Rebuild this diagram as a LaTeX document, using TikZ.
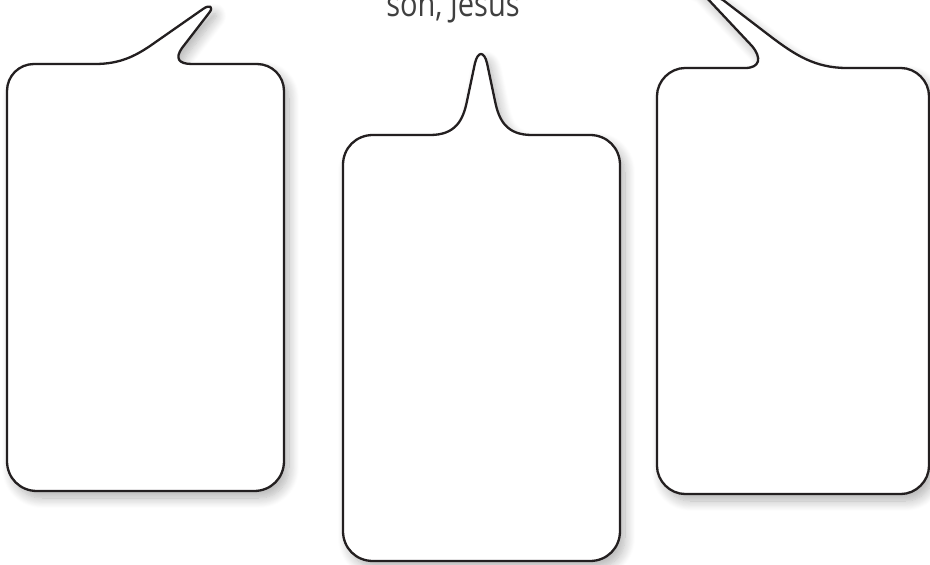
\documentclass[tikz,border=0pt]{standalone}
\usepackage{fontspec}
\setmainfont{Open Sans}
\usetikzlibrary{shadows.blur}
\definecolor{inkline}{HTML}{231F20}
\definecolor{labelgray}{HTML}{404040}
\tikzset{
  bubble/.style={draw=inkline, line width=2.3pt, fill=white, line join=round,
    blur shadow={shadow xshift=5pt, shadow yshift=-7pt, shadow blur radius=10pt, shadow opacity=30, shadow blur steps=12}},
  caption/.style={font=\fontsize{35}{38}\selectfont, text=labelgray, anchor=base, inner sep=0pt}
}
\begin{document}
\begin{tikzpicture}[x=1pt, y=-1pt]
\useasboundingbox (0,0) rectangle (930,565);
% left bubble
\path[bubble] (34,64) -- (95,64)
  .. controls (120,64) and (135,56) .. (150,46)
  -- (203,9)
  .. controls (210,4) and (214,7) .. (209,13)
  -- (182,48)
  .. controls (175,58) and (178,64) .. (192,64)
  -- (257,64)
  .. controls (272,64) and (284,76) .. (284,91)
  -- (284,461)
  .. controls (284,478) and (271,491) .. (254,491)
  -- (37,491)
  .. controls (20,491) and (7,478) .. (7,461)
  -- (7,91)
  .. controls (7,76) and (19,64) .. (34,64) -- cycle;
% middle bubble
\path[bubble] (373,135) -- (430,135)
  .. controls (455,135) and (463,121) .. (467,101)
  -- (475,63)
  .. controls (478,51) and (484,51) .. (487,63)
  -- (495,101)
  .. controls (499,121) and (507,135) .. (532,135)
  -- (590,135)
  .. controls (607,135) and (620,148) .. (620,165)
  -- (620,531)
  .. controls (620,548) and (607,561) .. (590,561)
  -- (373,561)
  .. controls (356,561) and (343,548) .. (343,531)
  -- (343,165)
  .. controls (343,148) and (356,135) .. (373,135) -- cycle;
% right bubble
\path[bubble] (685,68) -- (745,68)
  .. controls (760,68) and (762,58) .. (752,46)
  -- (690,-20)
  .. controls (686,-25) and (683,-22) .. (686,-18)
  -- (723,0)
  -- (770,36)
  .. controls (795,55) and (815,68) .. (847,68)
  -- (901,68)
  .. controls (916,68) and (929,81) .. (929,96)
  -- (929,466)
  .. controls (929,481) and (916,494) .. (901,494)
  -- (685,494)
  .. controls (670,494) and (657,481) .. (657,466)
  -- (657,96)
  .. controls (657,81) and (670,68) .. (685,68) -- cycle;
% caption (cut at the top, as in the reference)
\node[caption] (cap) at (453,16.5) {\scalebox{0.83}[1]{son, Jesus}};
\end{tikzpicture}
\end{document}
